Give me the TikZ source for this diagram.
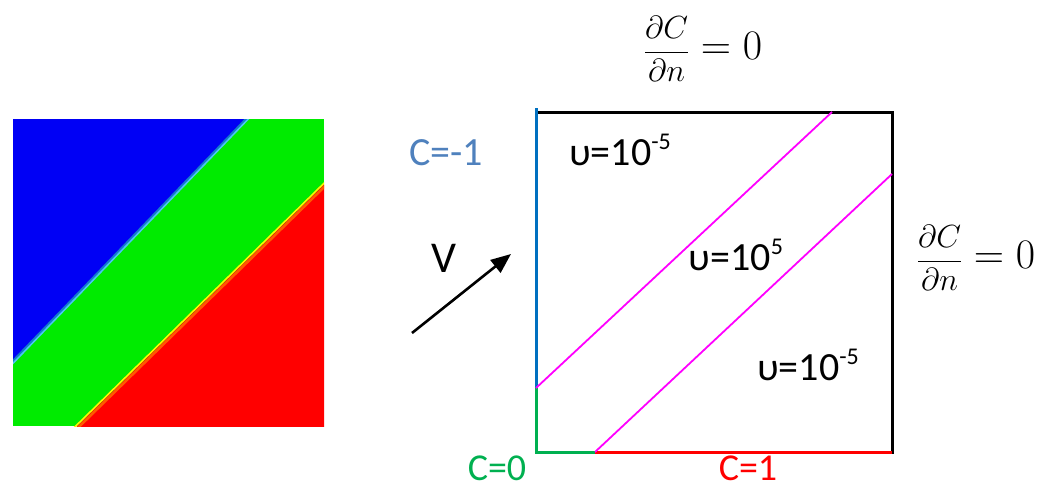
\documentclass[tikz,border=0pt]{standalone}
\usepackage{fix-cm}
\usepackage{fontspec}
\newfontfamily\calibri{Carlito}
\usetikzlibrary{arrows.meta}
\definecolor{fieldblue}{RGB}{0,0,245}
\definecolor{fieldgreen}{RGB}{0,235,0}
\definecolor{fieldred}{RGB}{255,0,0}
\definecolor{bcblue}{RGB}{0,112,192}
\definecolor{bcgreen}{RGB}{0,176,80}
\definecolor{lblblue}{RGB}{79,129,189}
\definecolor{magline}{RGB}{255,0,255}
\newcommand{\supx}[1]{\raisebox{0.42em}{\fontsize{24}{24}\selectfont #1}}
\newcommand{\bceq}{{\fontsize{32}{38}\selectfont$\displaystyle\frac{\partial C}{\partial n}$}{\fontsize{42}{48}\selectfont${}=0$}}
\tikzset{
  lbl/.style={font=\calibri\fontsize{40}{46}\selectfont, inner sep=0pt},
  bclbl/.style={font=\calibri\fontsize{38}{44}\selectfont, inner sep=0pt},
  eqn/.style={inner sep=0pt},
  edge/.style={line width=3pt},
  interface/.style={magline, line width=1.8pt},
}
\begin{document}
\begin{tikzpicture}[x=1pt,y=-1pt]
\useasboundingbox (0,0) rectangle (1048,490);
% ---- left: computed field ----
\begin{scope}
\clip (13,119) rectangle (324,426);
\fill[fieldgreen] (13,119) rectangle (324,426);
\fill[fieldblue] (0,375) -- (260,105) -- (0,105) -- cycle;
\fill[fieldred] (63,440) -- (338,171) -- (338,440) -- cycle;
\draw[cyan!60!blue, line width=3pt] (0,375) -- (260,105);
\draw[cyan!70!white, line width=1.5pt] (1,375.8) -- (261,105.8);
\draw[orange, line width=2.5pt, opacity=0.7] (64.5,441) -- (339.5,172);
\draw[yellow, line width=1.6pt] (62.5,439) -- (337.5,170);
\end{scope}
% ---- velocity arrow ----
\coordinate (vtail) at (412,333);
\coordinate (vhead) at (511,254);
\draw[line width=2.6pt, -{Triangle[length=20pt,width=16pt]}] (vtail) -- (vhead);
\node[lbl, font=\calibri\fontsize{44}{50}\selectfont] (vlab) at (444,258) {V};
% ---- right: domain ----
\coordinate (tl) at (536,108);
\coordinate (tl2) at (536,112);
\coordinate (tr) at (892,112);
\coordinate (br) at (892,452);
\coordinate (bl) at (536,452);
\coordinate (lm) at (536,388);
\coordinate (bm) at (595,452);
\coordinate (tm) at (832,112);
\coordinate (rm) at (892,174);
\draw[edge, black, line cap=rect] (tl2) -- (tr) -- (br);
\draw[edge, bcblue] (tl) -- (lm);
\draw[edge, bcgreen] (lm) -- (bl) -- (bm);
\draw[edge, fieldred] (bm) -- (br);
\draw[interface] (lm) -- (tm);
\draw[interface] (bm) -- (rm);
\node[lbl] (nu1) at (620,150) {υ=10\supx{-5}};
\node[lbl] (nu2) at (736,255) {υ=10\supx{5}};
\node[lbl] (nu3) at (808,365) {υ=10\supx{-5}};
% ---- boundary labels ----
\node[lbl, text=lblblue] (cm1) at (446,153) {C=-1};
\node[bclbl, text=bcgreen] (c0) at (497,468.5) {C=0};
\node[bclbl, text=fieldred] (c1) at (748,468.5) {C=1};
\node[eqn] (topeq) at (703,49) {\bceq};
\node[eqn] (righteq) at (976,258) {\bceq};
\end{tikzpicture}
\end{document}
